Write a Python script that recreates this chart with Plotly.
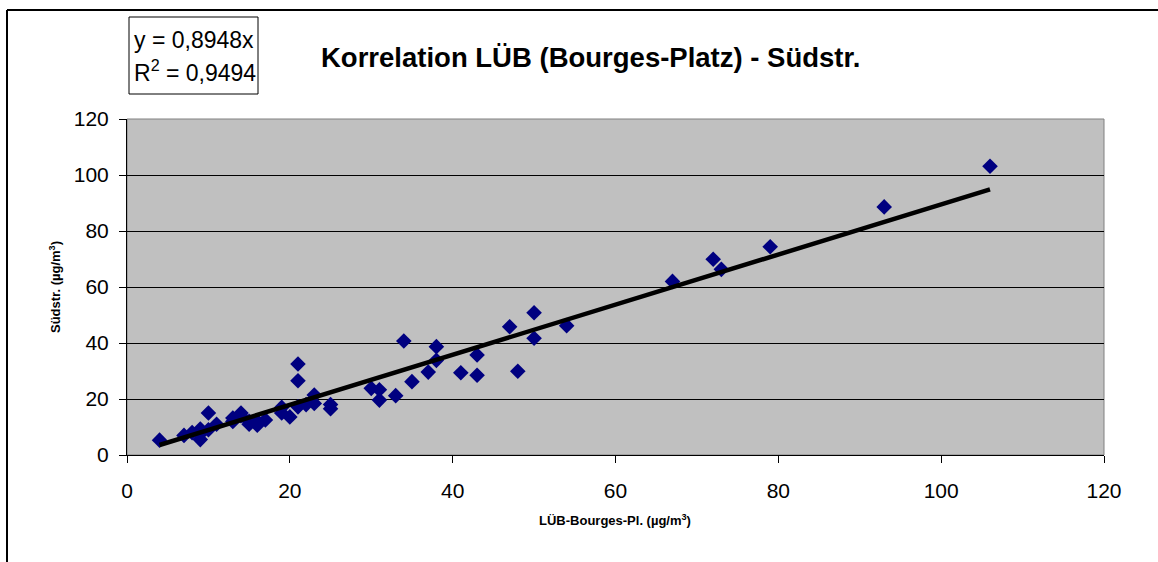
import plotly.graph_objects as go

# Data
x_vals = [4, 7, 8, 9, 9, 9, 10, 10, 11, 13, 13, 14, 14, 15, 15, 16, 16, 17, 19, 19,
          20, 21, 21, 21, 22, 23, 23, 25, 25, 30, 31, 31, 33, 34, 35, 37, 38, 38, 41, 43,
          43, 47, 48, 50, 50, 54, 67, 72, 73, 79, 93, 106]
y_vals = [5.3, 7.0, 8.0, 9.3, 5.5, 7.5, 15.0, 9.0, 11.0, 13.2, 12.0, 15.0, 14.0, 12.0, 11.0, 10.6, 12.0, 12.5, 17.0, 15.0,
          13.6, 32.5, 26.5, 17.2, 18.0, 21.4, 18.4, 18.0, 16.5, 23.8, 23.3, 19.6, 21.2, 40.7, 26.2, 29.6, 38.7, 33.8, 29.4, 35.7,
          28.5, 45.8, 29.9, 50.8, 41.7, 46.2, 62.0, 69.9, 66.3, 74.4, 88.6, 103.1]
slope = 0.8948
r_squared = 0.9494
x_ticks = [0, 20, 40, 60, 80, 100, 120]
y_ticks = [0, 20, 40, 60, 80, 100, 120]

title_text = "Korrelation LÜB (Bourges-Platz) - Südstr."
x_title = "LÜB-Bourges-Pl. (µg/m<sup>3</sup>)"
y_title = "Südstr. (µg/m<sup>3</sup>)"

W, H = 1158, 562
L, R, T, B = 127, 54, 119, 107
PW, PH = W - L - R, H - T - B


def px(xp):
    return (xp - L) / PW


def py(yp):
    return (H - B - yp) / PH


FONT = "Arial, Liberation Sans, sans-serif"

fig = go.Figure()
fig.add_trace(go.Scatter(
    x=x_vals, y=y_vals, mode="markers",
    marker=dict(symbol="diamond", size=12, color="#000080", line=dict(width=0)),
    showlegend=False, cliponaxis=False,
))
x_line = [min(x_vals), max(x_vals)]
fig.add_trace(go.Scatter(
    x=x_line, y=[slope * v for v in x_line], mode="lines",
    line=dict(color="black", width=4.5), showlegend=False,
))

fig.update_layout(
    width=W, height=H,
    margin=dict(l=L, r=R, t=T, b=B, pad=0),
    paper_bgcolor="white", plot_bgcolor="#C0C0C0",
    font=dict(family=FONT, color="black"),
)
fig.update_xaxes(
    range=[0, 120], tickvals=x_ticks, showgrid=False, zeroline=False,
    showline=True, linecolor="black", linewidth=1,
    ticks="outside", ticklen=7, tickcolor="black", ticklabelstandoff=10,
    tickfont=dict(size=21),
)
fig.update_yaxes(
    range=[0, 120], tickvals=y_ticks, showgrid=True, gridcolor="black", gridwidth=1,
    zeroline=False, showline=True, linecolor="black", linewidth=1,
    ticks="outside", ticklen=7, tickcolor="black", ticklabelstandoff=6,
    tickfont=dict(size=21),
)

# gray plot border (top/right)
fig.add_shape(type="rect", xref="paper", yref="paper", x0=0, y0=0, x1=1, y1=1,
              line=dict(color="#808080", width=1), layer="below")

# outer chart frame (top and left lines)
fig.add_shape(type="line", xref="paper", yref="paper",
              x0=px(7), x1=1.2, y0=py(10), y1=py(10),
              line=dict(color="black", width=2))
fig.add_shape(type="line", xref="paper", yref="paper",
              x0=px(7), x1=px(7), y0=py(10), y1=-0.5,
              line=dict(color="black", width=2))

# Axis titles
fig.add_annotation(xref="paper", yref="paper", x=px(615), y=py(520),
                   text="<b>" + x_title + "</b>", showarrow=False,
                   font=dict(size=13), xanchor="center", yanchor="middle")
fig.add_annotation(xref="paper", yref="paper", x=px(55), y=py(287),
                   text="<b>" + y_title + "</b>", showarrow=False, textangle=-90,
                   font=dict(size=13), xanchor="center", yanchor="middle")

# Title
fig.add_annotation(xref="paper", yref="paper", x=px(590), y=py(57),
                   text="<b>" + title_text + "</b>", showarrow=False,
                   font=dict(size=27.5), xanchor="center", yanchor="middle")

# Equation box (frame + two text lines)
fig.add_shape(type="rect", xref="paper", yref="paper",
              x0=px(129), x1=px(258), y0=py(94), y1=py(17),
              line=dict(color="black", width=1), fillcolor="white")
eq_line1 = "y = {}x".format(str(slope).replace(".", ","))
eq_line2 = "R<sup>2</sup> = {}".format(str(r_squared).replace(".", ","))
fig.add_annotation(xref="paper", yref="paper", x=px(132), y=py(40),
                   text=eq_line1, showarrow=False, xanchor="left", yanchor="middle",
                   font=dict(size=23))
fig.add_annotation(xref="paper", yref="paper", x=px(132), y=py(71),
                   text=eq_line2, showarrow=False, xanchor="left", yanchor="middle",
                   font=dict(size=23))

fig.write_html("out.html", config={"displayModeBar": False},
               post_script="document.body.style.margin='0';")
